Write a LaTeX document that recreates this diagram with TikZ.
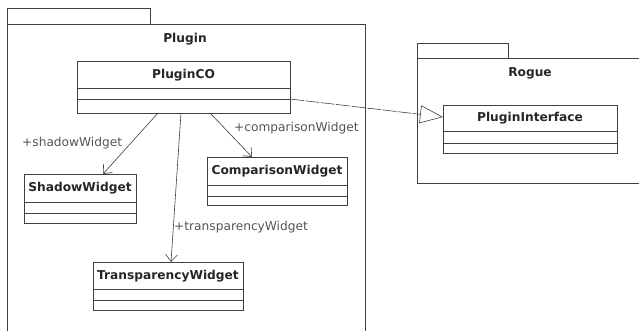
\documentclass[tikz,border=0pt]{standalone}
\usepackage{fontspec}
\setmainfont{DejaVu Sans}
\usetikzlibrary{arrows.meta,calc}
\definecolor{ln}{HTML}{404040}
\definecolor{lbl}{HTML}{555555}
\tikzset{
  box/.style={draw=ln, line width=0.8pt, inner sep=0pt, anchor=north west},
  clsname/.style={font=\fontsize{12.2}{14}\selectfont\bfseries, text=black!85, inner sep=0pt},
  pkgname/.style={font=\fontsize{12.2}{14}\selectfont\bfseries, text=black!85, inner sep=0pt},
  assoc/.style={draw=ln, line width=0.6pt, -{Straight Barb[length=7pt,width=12pt]}},
  rolelbl/.style={font=\fontsize{12.2}{14}\selectfont, text=lbl, inner sep=0pt},
  real/.style={draw=ln, line width=0.6pt, dash pattern=on 14pt off 1.5pt, -{Triangle[open,length=23pt,width=18pt,fill=white]}},
}
\begin{document}
\begin{tikzpicture}[x=1pt,y=-1pt]
\useasboundingbox[fill=white] (0,0) rectangle (639,330);
% Plugin package
\node[box, minimum width=143pt, minimum height=16pt] (ptab) at (7,8) {};
\node[box, minimum width=358pt, minimum height=320pt] (pbody) at (7,24) {};
\node[pkgname] (ptitle) at (185,39) {Plugin};
% Rogue package
\node[box, minimum width=91pt, minimum height=15pt] (rtab) at (417,43) {};
\node[box, minimum width=240pt, minimum height=125pt] (rbody) at (417,58) {};
\node[pkgname] (rtitle) at (530,73) {Rogue};
% PluginCO
\node[box, minimum width=213pt, minimum height=52pt] (pco) at (77,61) {};
\node[clsname] (pcot) at (183.5,75) {PluginCO};
\draw[ln, line width=0.8pt] (77,88) -- (290,88) (77,99) -- (290,99);
% ShadowWidget
\node[box, minimum width=112pt, minimum height=49pt] (sw) at (24,174) {};
\node[clsname] (swt) at (80,188.5) {ShadowWidget};
\draw[ln, line width=0.8pt] (24,202) -- (136,202) (24,213) -- (136,213);
% ComparisonWidget
\node[box, minimum width=140pt, minimum height=48pt] (cw) at (207,157) {};
\node[clsname] (cwt) at (277,171.5) {ComparisonWidget};
\draw[ln, line width=0.8pt] (207,185) -- (347,185) (207,196) -- (347,196);
% TransparencyWidget
\node[box, minimum width=150pt, minimum height=48pt] (tw) at (93,262) {};
\node[clsname] (twt) at (168,276) {TransparencyWidget};
\draw[ln, line width=0.8pt] (93,289) -- (243,289) (93,300) -- (243,300);
% PluginInterface
\node[box, minimum width=174pt, minimum height=48pt] (pi) at (443,105) {};
\node[clsname] (pit) at (530,118.5) {PluginInterface};
\draw[ln, line width=0.8pt] (443,131) -- (617,131) (443,143) -- (617,143);
% associations
\coordinate (a1) at (158,113);
\coordinate (b1) at (103,174);
\coordinate (a2) at (181,113);
\coordinate (b2) at (171,262);
\coordinate (a3) at (210,113);
\coordinate (b3) at (252,157);
\draw[assoc] (a1) -- (b1);
\draw[assoc] (a2) -- (b2);
\draw[assoc] (a3) -- (b3);
\node[rolelbl, anchor=west] (l1) at (22,143) {+shadowWidget};
\node[rolelbl, anchor=west] (l2) at (174,227) {+transparencyWidget};
\node[rolelbl, anchor=west] (l3) at (234,128) {+comparisonWidget};
% realization
\coordinate (r1) at (290,99);
\coordinate (r2) at (443,117);
\draw[real] (r1) -- (r2);
\end{tikzpicture}
\end{document}
